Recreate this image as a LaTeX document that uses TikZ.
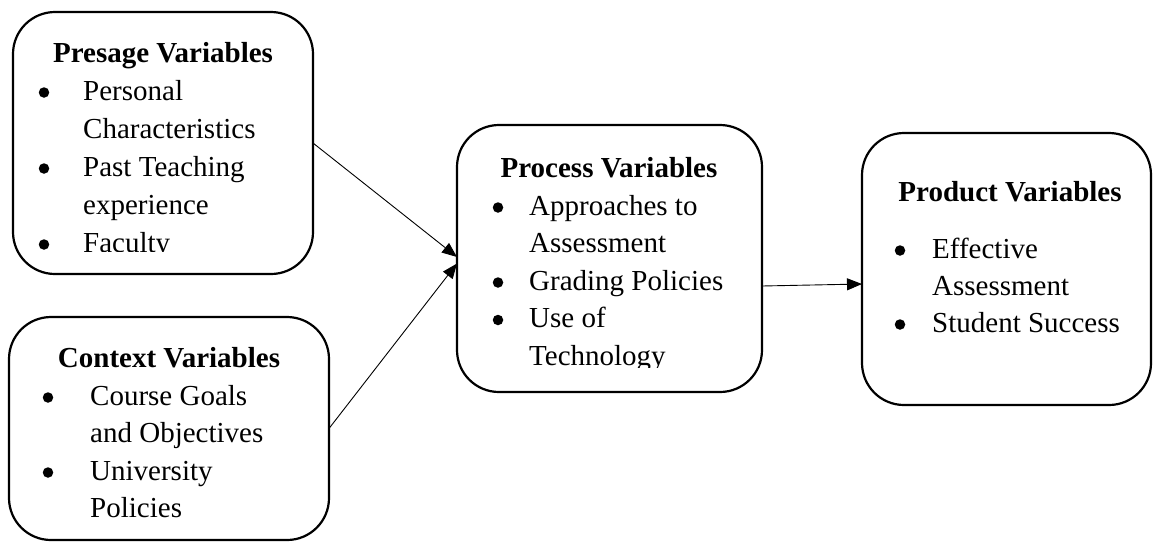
\documentclass[tikz,border=0pt]{standalone}
\usepackage{fontspec}
\setmainfont{Liberation Serif}
\usetikzlibrary{arrows.meta}
\begin{document}
\begin{tikzpicture}[x=1pt,y=-1pt,
  box/.style={draw, line width=2.2pt, rounded corners=42pt, inner sep=0pt, outer sep=0pt},
  conn/.style={line width=0.9pt, -{Triangle[length=15pt,width=12pt]}},
  ttl/.style={anchor=base, font=\fontsize{29}{37}\selectfont\bfseries, inner sep=0pt},
  txt/.style={anchor=base west, font=\fontsize{29}{37}\selectfont, inner sep=0pt},
  bul/.style={circle, fill, inner sep=0pt, minimum size=10.5pt},
]
\useasboundingbox (0,0) rectangle (1153,542);

% boxes
\node[box, minimum width=300pt, minimum height=262pt] (pre) at (163,143) {};
\node[box, minimum width=320pt, minimum height=223pt] (ctx) at (169,428.5) {};
\node[box, minimum width=305pt, minimum height=267pt] (proc) at (609.5,258.5) {};
\node[box, minimum width=289pt, minimum height=272pt] (prod) at (1006.5,269) {};

% Presage
\begin{scope}
\clip (13,12) rectangle (313,251);
\node[ttl] (preT) at (163,62) {Presage Variables};
\node[bul] (preB1) at (44,92.5) {};
\node[txt] (preL1) at (83,100) {Personal};
\node[txt] (preL2) at (83,138) {Characteristics};
\node[bul] (preB2) at (44,168.5) {};
\node[txt] (preL3) at (83,176) {Past Teaching};
\node[txt] (preL4) at (83,214) {experience};
\node[bul] (preB3) at (44,244.5) {};
\node[txt] (preL5) at (83,252) {Faculty};
\end{scope}

% Context
\node[ttl] (ctxT) at (169,367) {Context Variables};
\node[bul] (ctxB1) at (48,397.5) {};
\node[txt] (ctxL1) at (90,405) {Course Goals};
\node[txt] (ctxL2) at (90,442.5) {and Objectives};
\node[bul] (ctxB2) at (48,472.5) {};
\node[txt] (ctxL3) at (90,480) {University};
\node[txt] (ctxL4) at (90,517.5) {Policies};

% Process
\begin{scope}
\clip (457,125) rectangle (762,367);
\node[ttl] (procT) at (609,177) {Process Variables};
\node[bul] (procB1) at (498,207.5) {};
\node[txt] (procL1) at (529,215) {Approaches to};
\node[txt] (procL2) at (529,252) {Assessment};
\node[bul] (procB2) at (498,282.5) {};
\node[txt] (procL3) at (529,290) {Grading Policies};
\node[bul] (procB3) at (498,320) {};
\node[txt] (procL4) at (529,327.5) {Use of};
\node[txt] (procL5) at (529,365) {Technology};
\end{scope}

% Product
\node[ttl] (prodT) at (1010,201) {Product Variables};
\node[bul] (prodB1) at (900,250.5) {};
\node[txt] (prodL1) at (932,258) {Effective};
\node[txt] (prodL2) at (932,295) {Assessment};
\node[bul] (prodB2) at (900,324.5) {};
\node[txt] (prodL3) at (932,332) {Student Success};

% connectors
\draw[conn] (pre.east) -- ([yshift=1.5pt]proc.west);
\draw[conn] (ctx.east) -- ([yshift=-5pt]proc.west);
\draw[conn] ([yshift=-27.5pt]proc.east) -- ([yshift=-15pt]prod.west);
\end{tikzpicture}
\end{document}
